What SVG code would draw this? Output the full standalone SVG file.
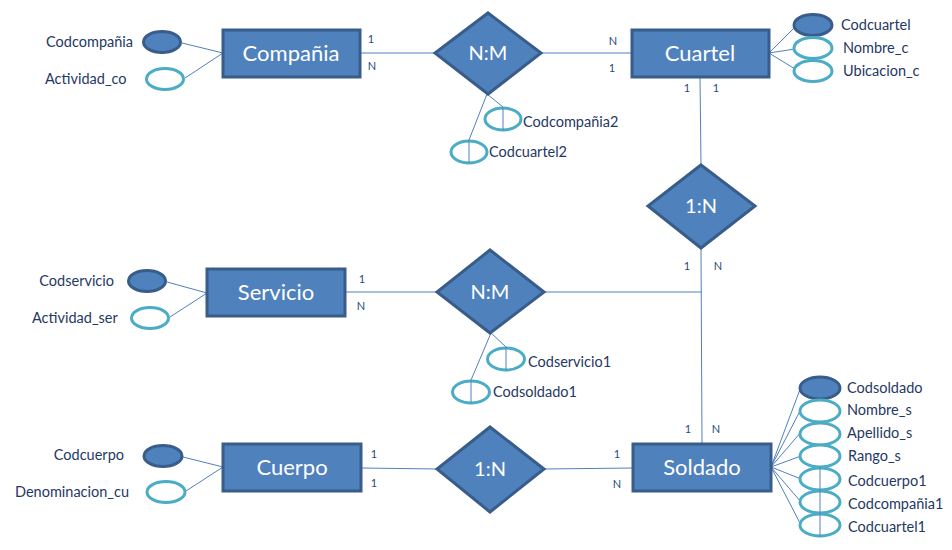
<svg xmlns="http://www.w3.org/2000/svg" width="952" height="550" viewBox="0 0 952 550">
<style>
.ent{fill:#4F81BD;stroke:#385D8A;stroke-width:3}
.rel{fill:#4F81BD;stroke:#385D8A;stroke-width:3}
.key{fill:#4F81BD;stroke:#385D8A;stroke-width:3}
.att{fill:#FFFFFF;stroke:#4BACC6;stroke-width:3}
.ln{stroke:#4F81BD;stroke-width:1;fill:none}
.et{font-family:Lato,"Liberation Sans",sans-serif;font-size:22px;fill:#FFFFFF;text-anchor:middle}
.rt{font-family:Lato,"Liberation Sans",sans-serif;font-size:20px;fill:#FFFFFF;text-anchor:middle}
.at{font-family:Lato,"Liberation Sans",sans-serif;font-size:14.5px;fill:#1F3864}
.ae{text-anchor:end}
.cd{font-family:Lato,"Liberation Sans",sans-serif;font-size:11px;fill:#1F497D;text-anchor:middle}
</style>
<rect width="952" height="550" fill="#FFFFFF"/>
<g id="connectors">
<line class="ln" x1="360" y1="53" x2="435" y2="53"/>
<line class="ln" x1="541" y1="53" x2="632" y2="53"/>
<line class="ln" x1="700" y1="77" x2="701" y2="165"/>
<line class="ln" x1="701" y1="248" x2="702" y2="444"/>
<line class="ln" x1="345" y1="292" x2="437" y2="292"/>
<line class="ln" x1="544" y1="292" x2="702" y2="292"/>
<line class="ln" x1="361" y1="468" x2="437" y2="469"/>
<line class="ln" x1="544" y1="469" x2="633" y2="468"/>
<line class="ln" x1="182" y1="43" x2="223" y2="53"/>
<line class="ln" x1="185" y1="78" x2="223" y2="53"/>
<line class="ln" x1="769" y1="53" x2="795" y2="27"/>
<line class="ln" x1="769" y1="53" x2="795" y2="49"/>
<line class="ln" x1="769" y1="53" x2="795" y2="69"/>
<line class="ln" x1="167" y1="282" x2="207" y2="293"/>
<line class="ln" x1="170" y1="317" x2="207" y2="293"/>
<line class="ln" x1="183" y1="457" x2="223" y2="467"/>
<line class="ln" x1="186" y1="491" x2="223" y2="467"/>
<line class="ln" x1="487" y1="94" x2="503" y2="107"/>
<line class="ln" x1="487" y1="94" x2="469" y2="140"/>
<line class="ln" x1="491" y1="333" x2="506" y2="347"/>
<line class="ln" x1="491" y1="333" x2="471" y2="380"/>
<line class="ln" x1="771" y1="467" x2="802" y2="384"/>
<line class="ln" x1="771" y1="467" x2="801" y2="409"/>
<line class="ln" x1="771" y1="467" x2="801" y2="432"/>
<line class="ln" x1="771" y1="467" x2="801" y2="456"/>
<line class="ln" x1="771" y1="467" x2="801" y2="479"/>
<line class="ln" x1="771" y1="467" x2="801" y2="502"/>
<line class="ln" x1="771" y1="467" x2="801" y2="525"/>
<text class="cd" x="371" y="43">1</text>
<text class="cd" x="372" y="70">N</text>
<text class="cd" x="613" y="45">N</text>
<text class="cd" x="612" y="72">1</text>
<text class="cd" x="687" y="92">1</text>
<text class="cd" x="716" y="92">1</text>
<text class="cd" x="687" y="270">1</text>
<text class="cd" x="718" y="270">N</text>
<text class="cd" x="362" y="283">1</text>
<text class="cd" x="361" y="310">N</text>
<text class="cd" x="374" y="458">1</text>
<text class="cd" x="374" y="487">1</text>
<text class="cd" x="617" y="458">1</text>
<text class="cd" x="617" y="488">N</text>
<text class="cd" x="688" y="433">1</text>
<text class="cd" x="716" y="433">N</text>
</g>
<g id="compania">
<rect class="ent" x="223" y="30" width="137" height="47"/>
<text class="et" x="291" y="61">Compañia</text>
</g>
<g id="compania-codcompania">
<ellipse class="key" cx="162" cy="42" rx="18.5" ry="10.5"/>
<text class="at ae" x="133" y="47">Codcompañia</text>
</g>
<g id="compania-actividad">
<ellipse class="att" cx="165" cy="79" rx="18.5" ry="10.5"/>
<text class="at" x="45" y="84">Actividad_co</text>
</g>
<g id="cuartel">
<rect class="ent" x="632" y="30" width="137" height="47"/>
<text class="et" x="700" y="61">Cuartel</text>
</g>
<g id="cuartel-codcuartel">
<ellipse class="key" cx="813" cy="25" rx="19" ry="10.5"/>
<text class="at" x="841" y="30">Codcuartel</text>
</g>
<g id="cuartel-nombre">
<ellipse class="att" cx="813" cy="48" rx="19" ry="10.5"/>
<text class="at" x="843" y="53">Nombre_c</text>
</g>
<g id="cuartel-ubicacion">
<ellipse class="att" cx="813" cy="71" rx="19" ry="10.5"/>
<text class="at" x="843" y="76">Ubicacion_c</text>
</g>
<g id="rel-compania-cuartel">
<polygon class="rel" points="488,13 541,53 488,94 435,53"/>
<text class="rt" x="488" y="60">N:M</text>
</g>
<g id="rel-codcompania2">
<ellipse class="att" cx="503" cy="119" rx="18" ry="11"/>
<line class="ln" x1="503" y1="108" x2="503" y2="130"/>
<text class="at" x="523" y="127">Codcompañia2</text>
</g>
<g id="rel-codcuartel2">
<ellipse class="att" cx="469" cy="152" rx="18" ry="11"/>
<line class="ln" x1="469" y1="140" x2="469" y2="163"/>
<text class="at" x="489" y="157">Codcuartel2</text>
</g>
<g id="rel-cuartel-soldado">
<polygon class="rel" points="701,165 755,206 701,248 648,206"/>
<text class="rt" x="701" y="213">1:N</text>
</g>
<g id="servicio">
<rect class="ent" x="207" y="269" width="138" height="47"/>
<text class="et" x="276" y="300">Servicio</text>
</g>
<g id="servicio-codservicio">
<ellipse class="key" cx="147" cy="281" rx="18.5" ry="10.5"/>
<text class="at ae" x="114" y="286">Codservicio</text>
</g>
<g id="servicio-actividad">
<ellipse class="att" cx="150" cy="318" rx="18.5" ry="10.5"/>
<text class="at" x="32" y="323">Actividad_ser</text>
</g>
<g id="rel-servicio-soldado">
<polygon class="rel" points="490,250 544,292 490,333 437,292"/>
<text class="rt" x="490" y="299">N:M</text>
</g>
<g id="rel-codservicio1">
<ellipse class="att" cx="506" cy="359" rx="18.5" ry="11"/>
<line class="ln" x1="506" y1="347" x2="506" y2="370"/>
<text class="at" x="528" y="367">Codservicio1</text>
</g>
<g id="rel-codsoldado1">
<ellipse class="att" cx="471" cy="392" rx="18.5" ry="11"/>
<line class="ln" x1="471" y1="380" x2="471" y2="403"/>
<text class="at" x="493" y="397">Codsoldado1</text>
</g>
<g id="cuerpo">
<rect class="ent" x="223" y="444" width="138" height="47"/>
<text class="et" x="292" y="475">Cuerpo</text>
</g>
<g id="cuerpo-codcuerpo">
<ellipse class="key" cx="163" cy="456" rx="19" ry="10.5"/>
<text class="at ae" x="124" y="460">Codcuerpo</text>
</g>
<g id="cuerpo-denominacion">
<ellipse class="att" cx="166" cy="492" rx="19" ry="10.5"/>
<text class="at" x="15" y="497">Denominacion_cu</text>
</g>
<g id="rel-cuerpo-soldado">
<polygon class="rel" points="490,427 544,469 490,512 437,469"/>
<text class="rt" x="490" y="476">1:N</text>
</g>
<g id="soldado">
<rect class="ent" x="633" y="444" width="138" height="47"/>
<text class="et" x="702" y="475">Soldado</text>
</g>
<g id="soldado-attrs">
<ellipse class="key" cx="820" cy="388" rx="20" ry="11"/>
<ellipse class="att" cx="820" cy="411" rx="20" ry="11"/>
<ellipse class="att" cx="820" cy="434" rx="20" ry="11"/>
<ellipse class="att" cx="820" cy="456" rx="20" ry="11"/>
<ellipse class="att" cx="820" cy="479" rx="20" ry="11"/>
<ellipse class="att" cx="820" cy="502" rx="20" ry="11"/>
<ellipse class="att" cx="820" cy="525" rx="20" ry="11"/>
<line class="ln" x1="820" y1="467" x2="820" y2="537"/>
<text class="at" x="847" y="393">Codsoldado</text>
<text class="at" x="847" y="415">Nombre_s</text>
<text class="at" x="847" y="438">Apellido_s</text>
<text class="at" x="848" y="461">Rango_s</text>
<text class="at" x="848" y="486">Codcuerpo1</text>
<text class="at" x="848" y="509">Codcompañia1</text>
<text class="at" x="848" y="532">Codcuartel1</text>
</g>
</svg>
